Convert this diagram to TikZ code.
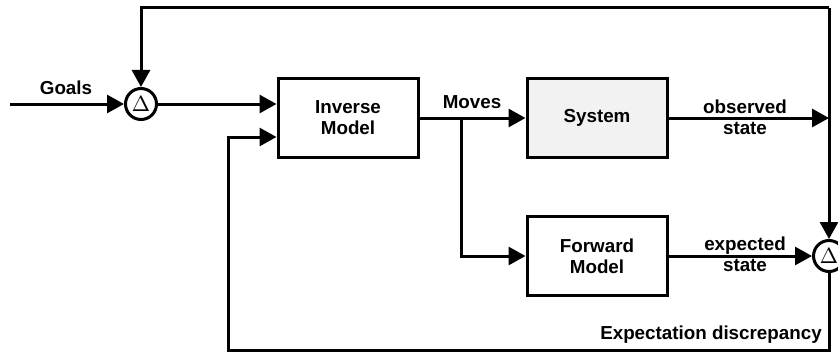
\documentclass[tikz,border=0pt]{standalone}
\usepackage{fontspec}
\setmainfont{Liberation Sans}
\usepackage{xcolor}
\usetikzlibrary{arrows.meta,positioning,calc}
\definecolor{sysfill}{HTML}{F2F2F2}

\begin{document}
\begin{tikzpicture}[x=0.5pt,y=-0.5pt,line width=1.5pt,
	>={Triangle[length=8.5pt,width=9pt]},
	txt/.style={font=\fontsize{9.4}{10.5}\selectfont\bfseries,align=center,inner sep=0pt},
	block/.style={txt,draw,minimum width=70pt,minimum height=39.5pt},
	sumnode/.style={draw,circle,minimum size=15.5pt,inner sep=0pt,font=\fontsize{10.5}{11}\selectfont}]
	\useasboundingbox (0,0) rectangle (838,353);
	\node[sumnode] (sumA) at (141,104) {$\Delta$};
	\node[sumnode] (sumB) at (829,256) {$\Delta$};
	\node[block] (inverse) at (348,118) {Inverse\\Model};
	\node[block,fill=sysfill] (system) at (597,118) {System};
	\node[block] (forward) at (597,256) {Forward\\Model};
	\coordinate (goalsin) at (10,104);
	\coordinate (split) at (461,118);
	\coordinate (obs) at (829,118);
	\coordinate (topright) at (829,8);
	\coordinate (botright) at (829,350);
	\coordinate (botleft) at (228,350);
	\node[txt] (goalslbl) at (66,88) {Goals};
	\node[txt] (moveslbl) at (472,102) {Moves};
	\node[txt] (obslbl) at (745,117) {observed\\state};
	\node[txt] (explbl) at (745,254) {expected\\state};
	\node[txt] (disclbl) at (711,335) {Expectation discrepancy};
	\draw[->] (goalsin) -- (sumA.west);
	\draw[->] (sumA.east) -- (sumA.east -| inverse.west);
	\draw[->] (inverse.east) -- (system.west);
	\draw[->] (split) |- (forward.west);
	\draw[->] (system.east) -- (obs);
	\draw[->] (topright) -| (sumA.north);
	\draw[->] (topright) -- (sumB.north);
	\draw[->] (forward.east) -- (sumB.west);
	\draw[->] (sumB.south) -- (botright) -- (botleft) |- ($(inverse.west)+(0,19)$);
\end{tikzpicture}
\end{document}
